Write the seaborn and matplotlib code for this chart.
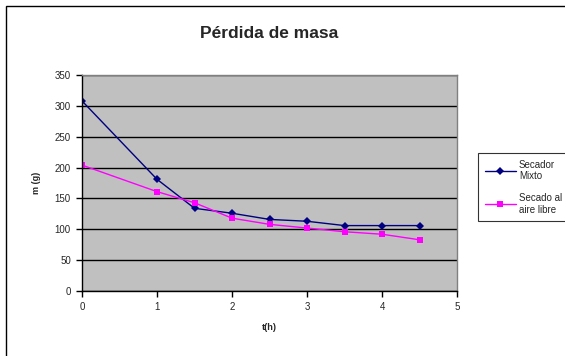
import matplotlib
matplotlib.use("Agg")
import matplotlib.pyplot as plt
import seaborn as sns
import pandas as pd
from matplotlib.patches import Rectangle

t_h = [0, 1, 1.5, 2, 2.5, 3, 3.5, 4, 4.5]
secador_mixto = [308, 181, 134, 126, 116, 113, 106, 106, 106]
secado_aire = [204, 161, 143, 118, 108, 102, 96, 92, 83]
series_names = ["Secador\nMixto", "Secado al\naire libre"]
y_ticks = [0, 50, 100, 150, 200, 250, 300, 350]
x_ticks = [0, 1, 2, 3, 4, 5]

sns.set_theme(style="white")
plt.rcParams['font.family'] = ['Liberation Sans', 'DejaVu Sans']

fig = plt.figure(figsize=(5.65, 3.56), dpi=100)
fig.patch.set_facecolor("white")
fig.patches.append(Rectangle((6/565, -0.1), 1.2, 1.1 - 6/356, transform=fig.transFigure,
                             fill=False, edgecolor="black", linewidth=1.0))
ax = fig.add_axes([82/565, 1 - 291/356, (457-82)/565, (291-75)/356])
ax.set_facecolor("#C0C0C0")

df = pd.DataFrame({"t": t_h * 2,
                   "m": secador_mixto + secado_aire,
                   "serie": [series_names[0]] * len(t_h) + [series_names[1]] * len(t_h)})

sns.lineplot(data=df, x="t", y="m", hue="serie", style="serie",
             palette={series_names[0]: "#000080", series_names[1]: "#FF00FF"},
             markers={series_names[0]: "D", series_names[1]: "s"},
             dashes=False, markersize=4.3, linewidth=1.0, markeredgewidth=0,
             ax=ax, legend=True)

ax.set_xlim(0, 5)
ax.set_ylim(0, 350)
ax.set_xticks(x_ticks)
ax.set_yticks(y_ticks)
ax.yaxis.grid(True, color="black", linewidth=1.0)
ax.xaxis.grid(False)
ax.set_axisbelow(True)
for s in ["top", "right"]:
    ax.spines[s].set_color("#808080")
    ax.spines[s].set_linewidth(1.0)
for s in ["left", "bottom"]:
    ax.spines[s].set_color("black")
    ax.spines[s].set_linewidth(1.0)
ax.tick_params(axis="both", which="major", labelsize=7, length=4, width=1,
               color="black", direction="out", left=True, bottom=True, pad=4)

ax.set_xlabel("t(h)", fontsize=6.5, fontweight="bold", labelpad=8)
ax.set_ylabel("m (g)", fontsize=6.5, fontweight="bold", labelpad=10)
fig.text(269/565, 1 - 33/356, "Pérdida de masa", ha="center", va="center",
         fontsize=12.5, fontweight="bold")

leg = ax.legend(loc="upper left", bbox_to_anchor=(478/565, 1 - 153/356),
                bbox_transform=fig.transFigure, fontsize=7, frameon=True,
                fancybox=False, edgecolor="black", handlelength=3.2,
                labelspacing=1.2, borderpad=0.7, handletextpad=0.3,
                borderaxespad=0)
leg.get_frame().set_linewidth(0.8)

fig.savefig("out.png", dpi=100)
